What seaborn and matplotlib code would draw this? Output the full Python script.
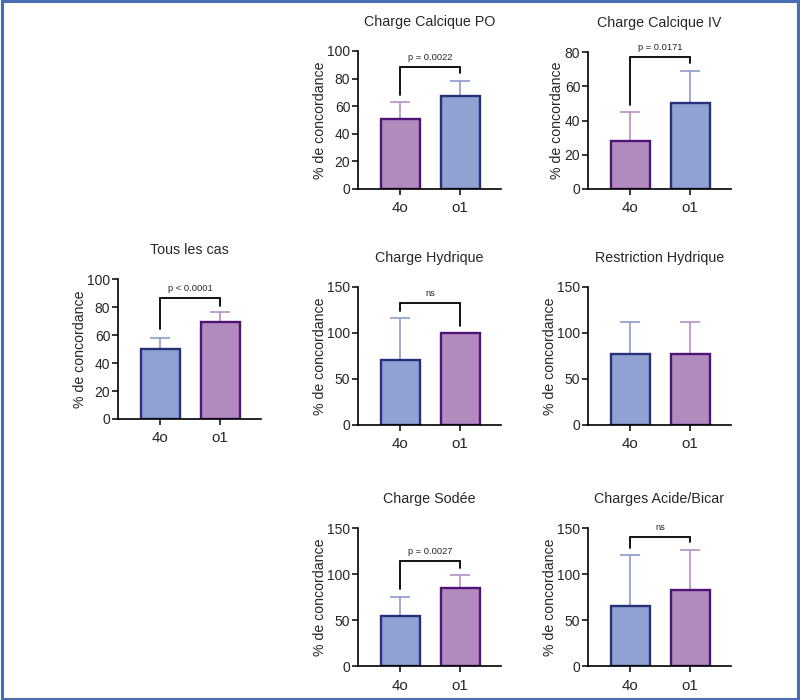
import matplotlib
matplotlib.use("Agg")
import matplotlib.pyplot as plt
import seaborn as sns
import pandas as pd
from matplotlib.patches import Rectangle

# ---------------- data ----------------
titles = ["Charge Calcique PO", "Charge Calcique IV", "Tous les cas",
          "Charge Hydrique", "Restriction Hydrique", "Charge Sodée",
          "Charges Acide/Bicar"]
groups = ["4o", "o1"]
mean_4o = [50.9, 28.2, 49.9, 70.5, 76.8, 54.5, 65.4]
mean_o1 = [67.4, 50.2, 69.4, 100.0, 76.8, 84.6, 82.8]
sd_4o = [12.4, 16.9, 8.3, 45.5, 35.2, 21.0, 55.5]
sd_o1 = [11.1, 18.9, 7.4, 0.0, 35.2, 14.9, 43.2]
y_max = [100, 80, 100, 150, 150, 150, 150]
y_step = [20, 20, 20, 50, 50, 50, 50]
first_is_purple = [True, True, False, False, False, False, False]
bracket_top = [88.6, 77.3, 86.4, 132.6, None, 114.7, 140.2]
bracket_left = [68.0, 49.0, 64.4, 124.0, None, 83.9, 128.9]
bracket_right = [83.8, 73.4, 80.9, 107.4, None, 106.4, 134.7]
p_labels = ["p = 0.0022", "p = 0.0171", "p < 0.0001", "ns", None, "p = 0.0027", "ns"]

# ---------------- style ----------------
sns.set_style("ticks")
plt.rcParams['font.family'] = ['Liberation Sans', 'DejaVu Sans']

BLUE_FILL, BLUE_EDGE, BLUE_ERR = "#8FA2D2", "#28307C", "#8E9BCB"
PURP_FILL, PURP_EDGE, PURP_ERR = "#B18BBE", "#4E1577", "#B58FC5"

W, H = 800, 700
fig = plt.figure(figsize=(8, 7), dpi=100)

# axes placement in pixels: (left, top, height)
boxes = [(358, 51, 138), (588, 52, 137), (118, 279.3, 139.7),
         (358, 286.7, 138.3), (588, 286.7, 138.3),
         (358, 528.3, 137.7), (588, 528.3, 137.7)]
AX_W = 143

for i, title in enumerate(titles):
    l, t, h = boxes[i]
    ax = fig.add_axes([l / W, 1 - (t + h) / H, AX_W / W, h / H])
    df = pd.DataFrame({"model": groups, "value": [mean_4o[i], mean_o1[i]]})
    if first_is_purple[i]:
        fills = [PURP_FILL, BLUE_FILL]; edges = [PURP_EDGE, BLUE_EDGE]; errs = [PURP_ERR, BLUE_ERR]
    else:
        fills = [BLUE_FILL, PURP_FILL]; edges = [BLUE_EDGE, PURP_EDGE]; errs = [BLUE_ERR, PURP_ERR]
    pal = dict(zip(groups, fills))
    sns.barplot(data=df, x="model", y="value", hue="model", order=groups,
                hue_order=groups, palette=pal, width=0.65, errorbar=None,
                legend=False, ax=ax, linewidth=1.7, saturation=1)
    bars = sorted(ax.patches, key=lambda p: p.get_x())
    for b, ec in zip(bars, edges):
        b.set_edgecolor(ec)
        b.set_linewidth(1.7)
        b.set_zorder(2)
    sds = [sd_4o[i], sd_o1[i]]
    means = [mean_4o[i], mean_o1[i]]
    for k in range(2):
        ax.errorbar([k], [means[k]], yerr=[[0], [sds[k]]], fmt='none',
                    ecolor=errs[k], elinewidth=1.2, capsize=7, capthick=1.2,
                    zorder=1)
    if bracket_top[i] is not None:
        ax.plot([0, 0, 1, 1], [bracket_left[i], bracket_top[i], bracket_top[i], bracket_right[i]],
                color="black", lw=1.3, solid_joinstyle="miter", zorder=3)
        ax.annotate(p_labels[i], xy=(0.5, bracket_top[i]), xytext=(0, 3.5),
                    textcoords="offset points", ha="center", va="bottom",
                    fontsize=6.7)
    ax.set_xlim(-0.7, 1.68)
    ax.set_ylim(0, y_max[i])
    ax.set_yticks(list(range(0, y_max[i] + 1, y_step[i])))
    ax.set_xlabel("")
    ax.set_ylabel("% de concordance", fontsize=10.2, labelpad=0.5)
    ax.set_title(title, fontsize=10.3, pad=18)
    ax.tick_params(axis="y", labelsize=10, length=4, width=1.1, pad=1.5, color="black")
    ax.tick_params(axis="x", labelsize=10.8, length=4.5, width=1.1, pad=4.5, color="black")
    for s in ["top", "right"]:
        ax.spines[s].set_visible(False)
    for s in ["left", "bottom"]:
        ax.spines[s].set_linewidth(1.2)
        ax.spines[s].set_color("black")
    ax.set_facecolor("none")

fig.patches.append(Rectangle((0.002, 0.002), 0.996, 0.996, transform=fig.transFigure,
                             fill=False, edgecolor="#4A6CB3", linewidth=2.2))

fig.savefig("out.png", dpi=100)
